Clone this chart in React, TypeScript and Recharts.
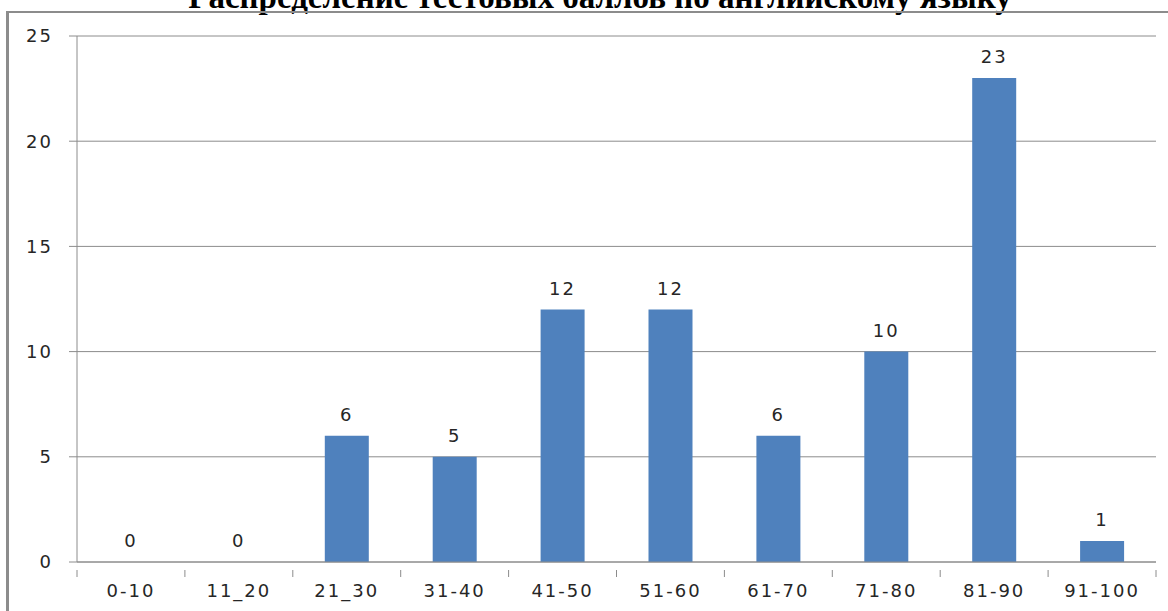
import React from 'react';
import { ComposedChart, Bar, Line, XAxis, YAxis, CartesianGrid, LabelList } from 'recharts';

const categories = ['0-10', '11_20', '21_30', '31-40', '41-50', '51-60', '61-70', '71-80', '81-90', '91-100'];
const counts = [0, 0, 6, 5, 12, 12, 6, 10, 23, 1];
const yTicks = [0, 5, 10, 15, 20, 25];

const W = 1168;
const H = 611;
const LEFT = 77;
const RIGHT = 12;
const BAND = (W - LEFT - RIGHT) / categories.length;
const GRID = '#8c8c8c';
const TEXT = '#262626';
const FONT = '"DejaVu Sans", sans-serif';

const data = categories.map((c, i) => ({ name: c, value: counts[i] }));

// Excel-style tick: marks sit on the category boundaries, not the centres
const XTick = (props: any) => {
  const { x, y, payload, index } = props;
  const last = index === categories.length - 1;
  return (
    <g>
      <line x1={x - BAND / 2} x2={x - BAND / 2} y1={y} y2={y + 7} stroke={GRID} />
      {last && <line x1={x + BAND / 2} x2={x + BAND / 2} y1={y} y2={y + 7} stroke={GRID} />}
      <text x={x} y={y + 27} textAnchor="middle" fill={TEXT} fontSize={18} fontFamily={FONT} letterSpacing={2}>
        {payload.value}
      </text>
    </g>
  );
};

const App: React.FC = () => {
  return (
    <div style={{ position: 'fixed', left: 0, top: 0, width: W, height: H, overflow: 'hidden', background: '#fff' }}>
      <div
        style={{
          position: 'absolute',
          left: 0,
          width: 1200,
          top: -19,
          textAlign: 'center',
          fontFamily: '"Liberation Serif", serif',
          fontWeight: 'bold',
          fontSize: 33,
          lineHeight: 1,
          color: '#000',
        }}
      >
        Распределение тестовых баллов по английскому языку
      </div>
      <div
        style={{
          position: 'absolute',
          left: 6,
          top: 11,
          width: W + 20,
          height: H + 20,
          borderLeft: `3px solid ${GRID}`,
          borderTop: `2px solid ${GRID}`,
          boxSizing: 'border-box',
        }}
      />
      <div style={{ position: 'absolute', left: 0, top: 0 }}>
        <ComposedChart width={W} height={H} data={data} margin={{ top: 36, right: RIGHT, bottom: 0, left: 0 }} barSize={44}>
          <CartesianGrid vertical={false} stroke={GRID} />
          <XAxis
            dataKey="name"
            stroke={GRID}
            tickLine={false}
            tick={<XTick />}
            interval={0}
            height={49}
          />
          <YAxis
            width={LEFT}
            domain={[0, 25]}
            ticks={yTicks}
            stroke={GRID}
            tickSize={8}
            tickMargin={16}
            tick={{ fill: TEXT, fontSize: 18, fontFamily: FONT, letterSpacing: 2 }}
          />
          <Bar dataKey="value" fill="#4f81bd" isAnimationActive={false} />
          {/* invisible line carries the value labels, so zero bars get a label too */}
          <Line dataKey="value" stroke="none" dot={false} activeDot={false} isAnimationActive={false}>
            <LabelList
              dataKey="value"
              position="top"
              offset={15}
              fill={TEXT}
              fontSize={18}
              fontFamily={FONT}
              letterSpacing={2}
            />
          </Line>
        </ComposedChart>
      </div>
    </div>
  );
};

export default App;
